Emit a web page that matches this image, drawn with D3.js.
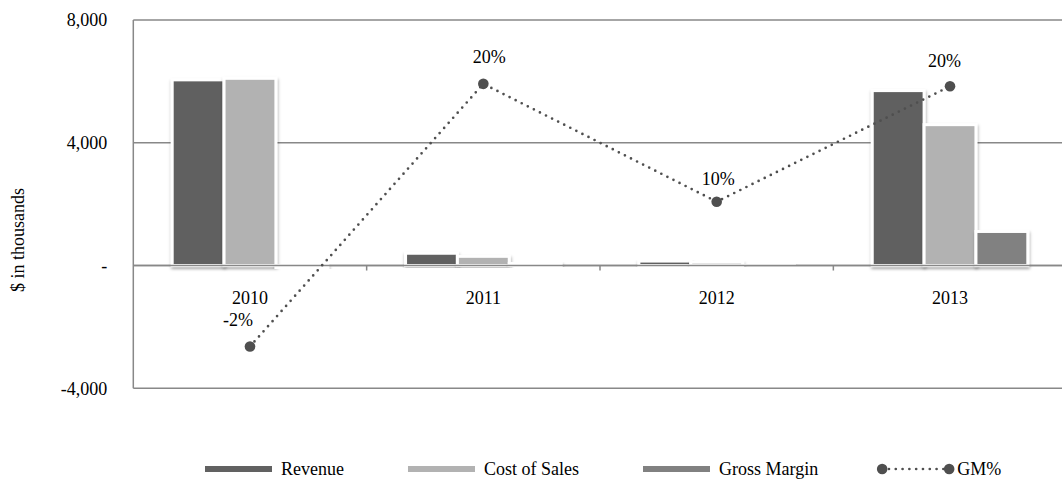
<!DOCTYPE html>
<html>
<head>
<meta charset="utf-8">
<script src="https://cdnjs.cloudflare.com/ajax/libs/d3/7.8.5/d3.min.js"></script>
<style>
  html, body { margin: 0; padding: 0; background: #fff; }
  svg { display: block; font-family: "Liberation Serif", "Times New Roman", serif; }
</style>
</head>
<body>
<svg id="chart" width="1062" height="480"></svg>
<script>
// Yearly figures, $ in thousands
const years = ["2010", "2011", "2012", "2013"];
const revenue = [6050, 400, 145, 5700];
const costOfSales = [6100, 300, 110, 4590];
const grossMargin = [-90, 80, 15, 1110];
// Gross margin percentage (secondary axis)
const gmPct = [-0.016, 0.198, 0.102, 0.196];
const yTicks = [-4000, 0, 4000, 8000];
const seriesNames = ["Revenue", "Cost of Sales", "Gross Margin"];
const lineName = "GM%";

// Label placement tweaks for the GM% labels (pixels)
const gmLabelNudge = { "2010": [-12, -21], "2011": [6, -21], "2012": [1.5, -17], "2013": [-5.5, -19] };

const colors = { "Revenue": "#616161", "Cost of Sales": "#b2b2b2", "Gross Margin": "#818181" };
const lineColor = "#4f4f4f";
const gridColor = "#888888";

// Plain hyphen for negatives, comma thousands
const loc = d3.formatLocale({ decimal: ".", thousands: ",", grouping: [3], currency: ["$", ""], minus: "-" });
const numFmt = loc.format(",");
const pctFmt = loc.format(".0%");

const svg = d3.select("#chart");
const W = 1062, H = 480;
svg.append("rect").attr("width", W).attr("height", H).attr("fill", "#fff");

const plot = { left: 133.3, right: 1066.7, top: 20, bottom: 388.3 };

const x = d3.scaleBand().domain(years).range([plot.left, plot.right]).paddingInner(0).paddingOuter(0);
const xs = d3.scaleBand().domain(seriesNames).range([0, x.bandwidth()]).paddingInner(0).paddingOuter(0.75);
const y = d3.scaleLinear().domain([-4000, 8000]).range([plot.bottom, plot.top]);
const y2 = d3.scaleLinear().domain([-0.05, 0.25]).range([plot.bottom, plot.top]);

// Soft shadow under the columns
const defs = svg.append("defs");
const f = defs.append("filter").attr("id", "shadow").attr("x", "-20%").attr("y", "-20%").attr("width", "140%").attr("height", "140%");
f.append("feDropShadow").attr("dx", 0.5).attr("dy", 2).attr("stdDeviation", 1.6)
  .attr("flood-color", "#000").attr("flood-opacity", 0.35);

// Horizontal gridlines
svg.append("g").selectAll("line").data(yTicks).join("line")
  .attr("x1", plot.left).attr("x2", plot.right)
  .attr("y1", d => y(d)).attr("y2", d => y(d))
  .attr("stroke", gridColor).attr("stroke-width", 1.5);

// Plot area left border
svg.append("line")
  .attr("x1", plot.left).attr("x2", plot.left)
  .attr("y1", plot.top).attr("y2", plot.bottom)
  .attr("stroke", gridColor).attr("stroke-width", 1.5);

// Y axis labels
const yAxis = d3.axisLeft(y).tickValues(yTicks)
  .tickFormat(d => d === 0 ? "-" : numFmt(d))
  .tickSize(0).tickPadding(26);
const yg = svg.append("g").attr("transform", `translate(${plot.left},0)`).call(yAxis);
yg.select(".domain").remove();
yg.selectAll("text").attr("font-size", 18).attr("fill", "#000")
  .style("font-family", "'Liberation Serif', 'Times New Roman', serif");

// Y axis title
svg.append("text")
  .attr("transform", "translate(24,240) rotate(-90)")
  .attr("text-anchor", "middle")
  .attr("font-size", 18).attr("fill", "#000")
  .text("$ in thousands");

// Columns
const seriesData = [revenue, costOfSales, grossMargin];
const bars = svg.append("g");
seriesNames.forEach((name, si) => {
  bars.append("g").selectAll("rect").data(years.map((yr, i) => ({ yr, v: seriesData[si][i] }))).join("rect")
    .attr("x", d => x(d.yr) + xs(name))
    .attr("width", xs.bandwidth())
    .attr("y", d => y(Math.max(0, d.v)))
    .attr("height", d => Math.abs(y(d.v) - y(0)))
    .attr("fill", colors[name])
    .attr("stroke", "#fff").attr("stroke-width", 3)
    .attr("filter", "url(#shadow)");
});

// Category axis at zero
svg.append("line")
  .attr("x1", plot.left).attr("x2", plot.right)
  .attr("y1", y(0)).attr("y2", y(0))
  .attr("stroke", gridColor).attr("stroke-width", 1.5);
svg.append("g").selectAll("line").data(years.slice(1)).join("line")
  .attr("x1", d => x(d)).attr("x2", d => x(d))
  .attr("y1", y(0)).attr("y2", y(0) + 5)
  .attr("stroke", gridColor).attr("stroke-width", 1.5);

const xAxis = d3.axisBottom(x).tickSize(0).tickPadding(26);
const xg = svg.append("g").attr("transform", `translate(0,${y(0)})`).call(xAxis);
xg.select(".domain").remove();
xg.selectAll("text").attr("font-size", 18).attr("fill", "#000")
  .style("font-family", "'Liberation Serif', 'Times New Roman', serif");

// GM% line with markers
const cx = yr => x(yr) + x.bandwidth() / 2;
const pts = years.map((yr, i) => ({ yr, v: gmPct[i] }));
svg.append("path")
  .datum(pts)
  .attr("d", d3.line().x(d => cx(d.yr)).y(d => y2(d.v)))
  .attr("fill", "none").attr("stroke", lineColor)
  .attr("stroke-width", 2.7).attr("stroke-dasharray", "0 6.8").attr("stroke-linecap", "round");
svg.append("g").selectAll("circle").data(pts).join("circle")
  .attr("cx", d => cx(d.yr)).attr("cy", d => y2(d.v)).attr("r", 5.3)
  .attr("fill", lineColor);

// GM% labels
svg.append("g").selectAll("text").data(pts).join("text")
  .attr("x", d => cx(d.yr) + gmLabelNudge[d.yr][0])
  .attr("y", d => y2(d.v) + gmLabelNudge[d.yr][1])
  .attr("text-anchor", "middle").attr("font-size", 18).attr("fill", "#000")
  .text(d => pctFmt(d.v));

// Legend
const legend = svg.append("g").attr("transform", "translate(205,469)");
let lx = 0;
const swW = 67;
seriesNames.forEach(name => {
  legend.append("rect").attr("x", lx).attr("y", -3).attr("width", swW).attr("height", 6).attr("fill", colors[name]);
  const t = legend.append("text").attr("x", lx + swW + 9).attr("y", 6).attr("font-size", 18).attr("fill", "#000").text(name);
  lx += swW + 9 + t.node().getComputedTextLength() + 64;
});
legend.append("line").attr("x1", lx).attr("x2", lx + swW).attr("y1", 0).attr("y2", 0)
  .attr("stroke", lineColor).attr("stroke-width", 2.7).attr("stroke-dasharray", "0 6.8").attr("stroke-linecap", "round");
legend.append("circle").attr("cx", lx).attr("cy", 0).attr("r", 5.3).attr("fill", lineColor);
legend.append("circle").attr("cx", lx + swW).attr("cy", 0).attr("r", 5.3).attr("fill", lineColor);
legend.append("text").attr("x", lx + swW + 8).attr("y", 6).attr("font-size", 18).attr("fill", "#000").text(lineName);
</script>
</body>
</html>
